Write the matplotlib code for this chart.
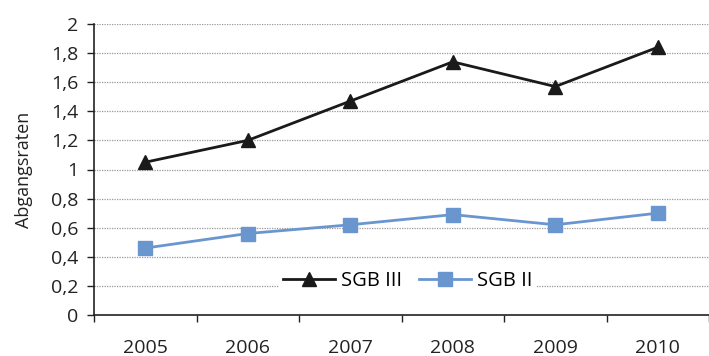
import matplotlib.pyplot as plt
from matplotlib.ticker import FixedLocator, FuncFormatter

plt.rcParams['font.family'] = ['Open Sans', 'DejaVu Sans']

years = ['2005', '2006', '2007', '2008', '2009', '2010']
sgb3 = [1.05, 1.20, 1.47, 1.74, 1.57, 1.84]
sgb2 = [0.46, 0.56, 0.62, 0.69, 0.62, 0.70]
yticks = [0, 0.2, 0.4, 0.6, 0.8, 1.0, 1.2, 1.4, 1.6, 1.8, 2.0]

fig = plt.figure(figsize=(7.09, 3.56), dpi=100)
ax = fig.add_axes([94 / 709, 41 / 356, 615 / 709, 291 / 356])

x = range(len(years))
ax.plot(x, sgb3, color='#1a1a1a', lw=2, marker='^', markersize=10, label='SGB III', zorder=4)
ax.plot(x, sgb2, color='#6a96d0', lw=2, marker='s', markersize=9.5, label='SGB II', zorder=3)

ax.set_xlim(-0.5, len(years) - 0.5)
ax.set_ylim(0, 2)
ax.set_yticks(yticks)
ax.yaxis.set_major_formatter(FuncFormatter(lambda v, p: f'{v:g}'.replace('.', ',')))
ax.set_xticks(list(x))
ax.set_xticklabels(years)
# category boundaries get the tick marks, labels sit centred between them
ax.xaxis.set_minor_locator(FixedLocator([i - 0.5 for i in range(len(years) + 1)]))
ax.tick_params(axis='x', which='major', length=0, pad=17, labelsize=14, colors='#222222')
ax.tick_params(axis='x', which='minor', length=5, width=1, color='#222222')
ax.tick_params(axis='y', length=5, width=1, labelsize=14, colors='#222222', pad=6)

ax.grid(axis='y', linestyle=(0, (1, 1)), color='#999999', lw=0.9)
ax.set_axisbelow(True)
for s in ['top', 'right']:
    ax.spines[s].set_visible(False)
for s in ['left', 'bottom']:
    ax.spines[s].set_color('#222222')
    ax.spines[s].set_linewidth(1.2)

ax.set_ylabel('Abgangsraten', fontsize=13, color='#222222')
ax.yaxis.set_label_coords(-0.099, 0.5)

leg = ax.legend(loc='center', bbox_to_anchor=(0.51, 0.117), ncol=2, frameon=True,
                fontsize=14.5, handlelength=2.6, columnspacing=0.8, handletextpad=0.3,
                borderpad=0.2)
leg.get_frame().set_edgecolor('none')
leg.get_frame().set_facecolor('white')
leg.get_frame().set_alpha(1)

fig.savefig('out.png', dpi=100)
